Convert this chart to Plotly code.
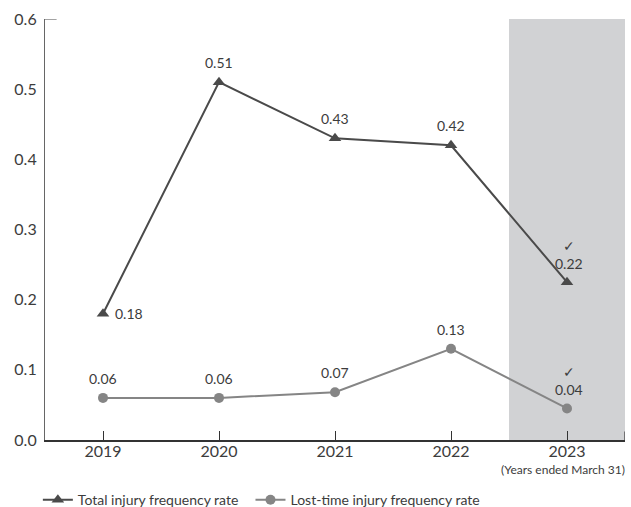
import plotly.graph_objects as go

years = ["2019", "2020", "2021", "2022", "2023"]
total_rate = [0.18, 0.51, 0.43, 0.42, 0.225]
total_labels = ["0.18", "0.51", "0.43", "0.42", "0.22"]
lost_rate = [0.06, 0.06, 0.068, 0.13, 0.045]
lost_labels = ["0.06", "0.06", "0.07", "0.13", "0.04"]
y_ticks = [0.0, 0.1, 0.2, 0.3, 0.4, 0.5, 0.6]

FONT = "Lato, 'Open Sans', sans-serif"
DARK = "#4a4a4a"
GREY = "#858585"
TXT = "#3c3c3c"

xi = list(range(len(years)))

fig = go.Figure()
fig.add_trace(go.Scatter(
    x=xi, y=total_rate, mode="lines+markers", name="Total injury frequency rate\u00a0\u00a0",
    line=dict(color=DARK, width=2),
    marker=dict(symbol="triangle-up", size=11, color=DARK),
))
fig.add_trace(go.Scatter(
    x=xi, y=lost_rate, mode="lines+markers", name="Lost-time injury frequency rate",
    line=dict(color=GREY, width=2),
    marker=dict(symbol="circle", size=10, color=GREY),
))

# shaded current year
fig.add_shape(type="rect", xref="x", yref="y", x0=3.5, x1=4.5, y0=0, y1=0.6,
              fillcolor="#d1d2d4", line=dict(width=0), layer="below")
# top tick on y axis
fig.add_shape(type="line", xref="paper", yref="y", x0=0, x1=0.02, y0=0.6, y1=0.6,
              line=dict(color="#666666", width=1.2))
# right end tick on x axis
fig.add_shape(type="line", xref="x", yref="paper", x0=4.5, x1=4.5, y0=0, y1=0.02,
              line=dict(color="#333333", width=1.2))

annotations = []
# total labels
for i, (v, lab) in enumerate(zip(total_rate, total_labels)):
    if i == 0:
        annotations.append(dict(x=i, y=v, text=lab, xanchor="left", yanchor="middle",
                                xshift=10, showarrow=False))
    elif i == 4:
        annotations.append(dict(x=i, y=v, text="✓<br>" + lab, xanchor="center", yanchor="bottom",
                                yshift=8, xshift=2, showarrow=False))
    else:
        annotations.append(dict(x=i, y=v, text=lab, xanchor="center", yanchor="bottom",
                                yshift=9, showarrow=False))
for i, (v, lab) in enumerate(zip(lost_rate, lost_labels)):
    if i == 4:
        annotations.append(dict(x=i, y=v, text="✓<br>" + lab, xanchor="center", yanchor="bottom",
                                yshift=8, xshift=2, showarrow=False))
    else:
        annotations.append(dict(x=i, y=v, text=lab, xanchor="center", yanchor="bottom",
                                yshift=9, showarrow=False))
for a in annotations:
    a["font"] = dict(family=FONT, size=14, color=TXT)

annotations.append(dict(xref="paper", yref="paper", x=1.003, y=-0.048, text="(Years ended March 31)",
                        xanchor="right", yanchor="top", showarrow=False,
                        font=dict(family=FONT, size=12, color=TXT)))

fig.update_layout(
    width=631, height=507,
    margin=dict(l=45, r=6, t=19, b=67, autoexpand=False),
    paper_bgcolor="white", plot_bgcolor="white",
    font=dict(family=FONT, color=TXT),
    showlegend=True,
    legend=dict(orientation="h", x=0.06, xref="container", y=0.045, yref="container",
                xanchor="left", yanchor="top",
                font=dict(family=FONT, size=14, color=TXT), itemwidth=30,
                bgcolor="rgba(0,0,0,0)"),
    annotations=annotations,
    xaxis=dict(
        range=[-0.5, 4.5], tickvals=xi, ticktext=years,
        showgrid=False, zeroline=False,
        showline=True, linecolor="#333333", linewidth=1.5,
        ticks="inside", ticklen=9, tickcolor="#333333", tickwidth=1.2,
        ticklabelstandoff=-4,
        tickfont=dict(family=FONT, size=16, color=TXT),
        automargin=False,
    ),
    yaxis=dict(
        range=[0, 0.6], tickvals=y_ticks, tickformat=".1f",
        showgrid=False, zeroline=False,
        showline=True, linecolor="#666666", linewidth=1.2,
        ticks="", ticklabelstandoff=4,
        tickfont=dict(family=FONT, size=16, color=TXT),
        automargin=False,
    ),
)

fig.write_html("out.html")
